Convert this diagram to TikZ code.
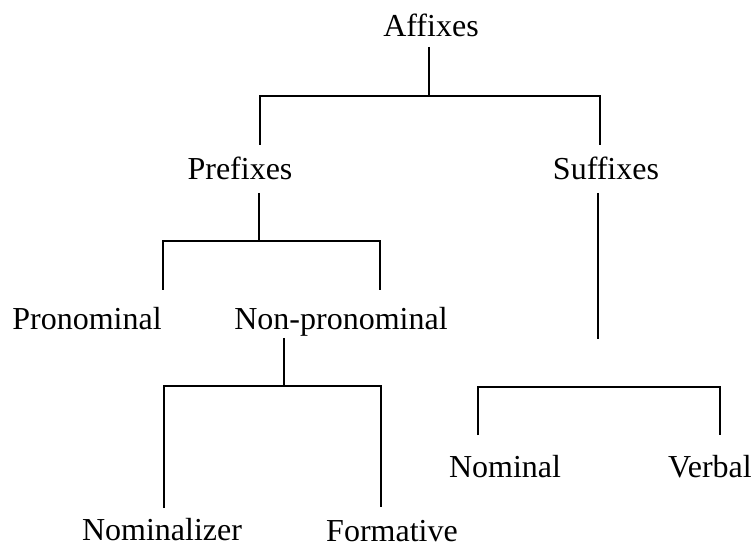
\documentclass[tikz,border=0pt]{standalone}
\usepackage{fontspec}
\setmainfont{Liberation Serif}
\begin{document}
\begin{tikzpicture}[x=1pt,y=-1pt,
  lbl/.style={inner sep=0pt,anchor=base,font=\fontsize{32}{36}\selectfont},
  conn/.style={line width=2.2pt,line join=miter,line cap=butt}]
\useasboundingbox (0,0) rectangle (756,548);
% labels
\node[lbl] (aff) at (431,37) {Affixes};
\node[lbl] (pre) at (240,180) {Prefixes};
\node[lbl] (suf) at (606,180) {Suffixes};
\node[lbl] (pron) at (87,330) {Pronominal};
\node[lbl] (npron) at (341,330) {Non-pronominal};
\node[lbl] (nomz) at (162,540) {Nominalizer};
\node[lbl] (form) at (392,541) {Formative};
\node[lbl] (nom) at (505,477) {Nominal};
\node[lbl] (verb) at (710,477) {Verbal};
% bracket points
\coordinate (a0) at (429,47);  \coordinate (a1) at (429,96);
\coordinate (aL) at (260,145); \coordinate (aR) at (600,145);
\coordinate (p0) at (259,193); \coordinate (p1) at (259,241);
\coordinate (pL) at (163,290); \coordinate (pR) at (380,290);
\coordinate (n0) at (284,338); \coordinate (n1) at (284,386);
\coordinate (nL) at (164,508); \coordinate (nR) at (381,507);
\coordinate (s0) at (598,193); \coordinate (s1) at (598,339);
\coordinate (sL) at (478,435); \coordinate (sR) at (720,435);
\coordinate (sM) at (598,387);
% connectors
\draw[conn] (a0) -- (a1);
\draw[conn] (aL) |- (a1) -| (aR);
\draw[conn] (p0) -- (p1);
\draw[conn] (pL) |- (p1) -| (pR);
\draw[conn] (n0) -- (n1);
\draw[conn] (nL) |- (n1) -| (nR);
\draw[conn] (s0) -- (s1);
\draw[conn] (sL) |- (sM) -| (sR);
\end{tikzpicture}
\end{document}
